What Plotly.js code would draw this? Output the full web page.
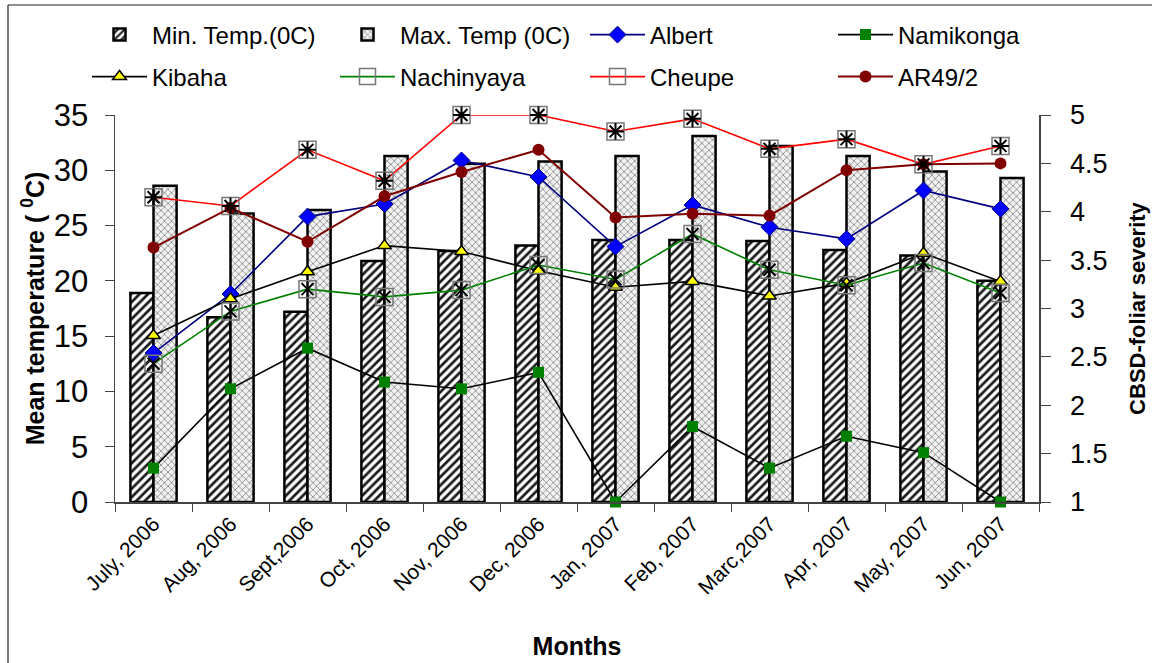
<!DOCTYPE html>
<html>
<head>
<meta charset="utf-8">
<script src="https://cdn.plot.ly/plotly-3.0.1.min.js"></script>
<style>
html,body{margin:0;padding:0;background:#fff;}
#chart{width:1152px;height:663px;}
</style>
</head>
<body>
<div id="chart"></div>
<script>
const months = ['July, 2006','Aug, 2006','Sept,2006','Oct, 2006','Nov, 2006','Dec, 2006','Jan, 2007','Feb, 2007','Marc,2007','Apr, 2007','May, 2007','Jun, 2007'];
const minTemp = [18.9, 16.7, 17.2, 21.8, 22.7, 23.2, 23.7, 23.7, 23.6, 22.8, 22.3, 20.0];
const maxTemp = [28.6, 26.1, 26.4, 31.3, 30.6, 30.8, 31.3, 33.1, 32.2, 31.3, 29.9, 29.3];
const albert = [2.54, 3.15, 3.95, 4.08, 4.53, 4.36, 3.64, 4.07, 3.84, 3.72, 4.22, 4.03];
const namikonga = [1.35, 2.17, 2.59, 2.24, 2.17, 2.34, 1.0, 1.78, 1.35, 1.68, 1.51, 1.0];
const kibaha = [2.72, 3.10, 3.38, 3.65, 3.59, 3.39, 3.22, 3.28, 3.13, 3.26, 3.57, 3.28];
const nachinyaya = [2.43, 2.97, 3.20, 3.12, 3.19, 3.45, 3.30, 3.77, 3.40, 3.24, 3.47, 3.16];
const cheupe = [4.15, 4.06, 4.64, 4.32, 5.0, 5.0, 4.83, 4.96, 4.65, 4.75, 4.49, 4.68];
const ar49 = [3.63, 4.04, 3.69, 4.16, 4.41, 4.64, 3.94, 3.98, 3.96, 4.43, 4.49, 4.50];
const rightTicks = [1, 1.5, 2, 2.5, 3, 3.5, 4, 4.5, 5];

const FONT = 'Arial, "Liberation Sans", sans-serif';

function line(name, y, lineColor, marker, legend, lw) {
  return {type:'scatter', mode:'lines+markers', name:name, x:months, y:y, yaxis:'y2',
    line:{color:lineColor, width:lw||1.6}, marker:marker, legend:legend, cliponaxis:false};
}
function overlay(y, symbol, size) {
  return {type:'scatter', mode:'markers', x:months, y:y, yaxis:'y2', showlegend:false, hoverinfo:'skip',
    marker:{symbol:symbol, size:size, color:'#000', line:{color:'#000', width:2}}, cliponaxis:false};
}

const traces = [
  {type:'bar', name:'Min. Temp.(0C)', x:months, y:minTemp, legend:'legend',
   marker:{color:'#fff', line:{color:'#000', width:2.5},
     pattern:{shape:'/', fgcolor:'#1a1a1a', bgcolor:'#ffffff', size:6, solidity:0.45}}},
  {type:'bar', name:'Max. Temp (0C)', x:months, y:maxTemp, legend:'legend2',
   marker:{color:'#eee', line:{color:'#000', width:2.5},
     pattern:{shape:'x', fgcolor:'#8a8a8a', bgcolor:'#f2f2f2', size:5, solidity:0.3}}},
  line('Albert', albert, '#000080', {symbol:'diamond', size:13, color:'#0000ff', line:{color:'#000080', width:1}}, 'legend3'),
  line('Namikonga', namikonga, '#000000', {symbol:'square', size:11, color:'#008000'}, 'legend4'),
  line('Kibaha', kibaha, '#000000', {symbol:'triangle-up', size:12, color:'#ffff00', line:{color:'#000', width:1.5}}, 'legend5'),
  line('Nachinyaya', nachinyaya, '#008000', {symbol:'square-open', size:17, color:'#777777', line:{width:1.5}}, 'legend6'),
  line('Cheupe', cheupe, '#ff0000', {symbol:'square-open', size:17, color:'#777777', line:{width:1.5}}, 'legend7'),
  line('AR49/2', ar49, '#800000', {symbol:'circle', size:12, color:'#800000'}, 'legend8', 2),
  overlay(nachinyaya, 'x-thin-open', 12),
  overlay(cheupe, 'asterisk-open', 14)
];

function leg(px, py) {
  return {x:(px-115)/924, y:(502-py)/387, xanchor:'left', yanchor:'middle', orientation:'v',
    itemwidth:55, bgcolor:'rgba(0,0,0,0)', borderwidth:0,
    font:{family:FONT, size:24, color:'#000'}};
}

const layout = {
  width:1152, height:663,
  margin:{l:115, r:113, t:115, b:161},
  paper_bgcolor:'#fff', plot_bgcolor:'#fff',
  font:{family:FONT, color:'#000'},
  barmode:'group', bargap:0.4, bargroupgap:0,
  showlegend:true,
  legend:leg(87,35), legend2:leg(335,35), legend3:leg(585,35), legend4:leg(833,35),
  legend5:leg(87,77), legend6:leg(335,77), legend7:leg(585,77), legend8:leg(833,77),
  xaxis:{type:'category', range:[-0.5, 11.5], autorange:false, tickson:'boundaries', ticks:'outside', ticklen:8, tickcolor:'#444',
    showline:true, linecolor:'#444', linewidth:1.5, showgrid:false, tickangle:-45,
    tickfont:{family:FONT, size:21, color:'#000'},
    title:{text:'<b>Months</b>', font:{family:FONT, size:25, color:'#000'}, standoff:40}},
  yaxis:{range:[0,35], dtick:5, ticks:'outside', ticklen:9, tickcolor:'#444',
    showline:true, linecolor:'#444', linewidth:1.5, showgrid:false, zeroline:false,
    tickfont:{family:FONT, size:31, color:'#000'}, ticklabelstandoff:10,
    title:{text:'<b>Mean temperature ( <sup>0</sup>C)</b>', font:{family:FONT, size:25, color:'#000'}, standoff:2}},
  yaxis2:{range:[1,5], tickvals:rightTicks, overlaying:'y', side:'right', ticks:'outside', ticklen:10, tickcolor:'#444',
    showline:true, linecolor:'#444', linewidth:1.5, showgrid:false, zeroline:false,
    tickfont:{family:FONT, size:27, color:'#000'}, ticklabelstandoff:14,
    title:{text:'<b>CBSD-foliar severity</b>', font:{family:FONT, size:22, color:'#000'}, standoff:23}},
  yaxis3:{range:[1,5], tickvals:rightTicks, overlaying:'y', side:'right', ticks:'inside', ticklen:9, tickcolor:'#444',
    showticklabels:false, showline:false, showgrid:false, zeroline:false},
  shapes:[
    {type:'line', xref:'paper', yref:'paper', x0:(8-115)/924, x1:(8-115)/924, y0:(502-5)/387, y1:-0.6,
     line:{color:'#222', width:1.2}},
    {type:'line', xref:'paper', yref:'paper', x0:(8-115)/924, x1:1.3, y0:(502-5)/387, y1:(502-5)/387,
     line:{color:'#222', width:1.2}}
  ]
};

Plotly.newPlot('chart', traces, layout, {displayModeBar:false, staticPlot:true});
</script>
</body>
</html>
